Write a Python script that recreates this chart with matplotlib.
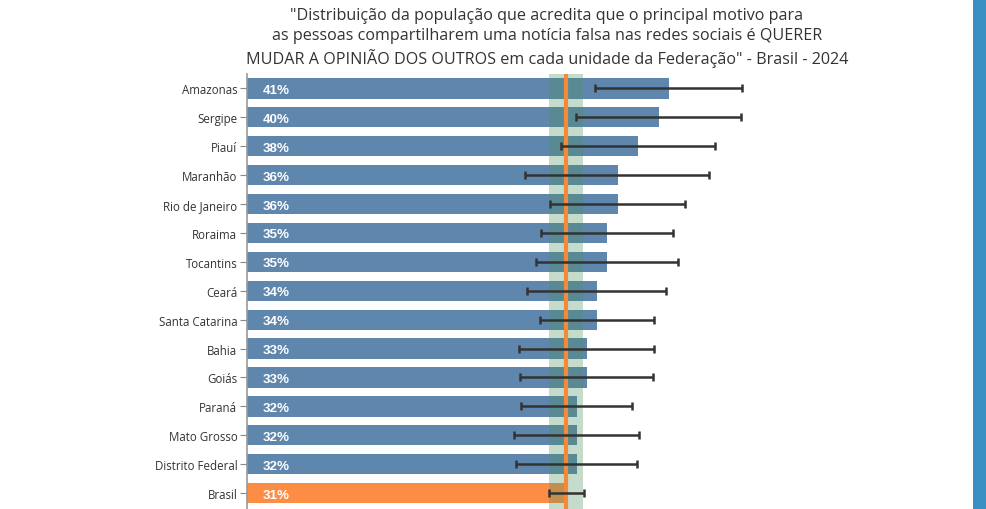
import numpy as np
import matplotlib.pyplot as plt

states = ["Amazonas", "Sergipe", "Piauí", "Maranhão", "Rio de Janeiro", "Roraima",
          "Tocantins", "Ceará", "Santa Catarina", "Bahia", "Goiás", "Paraná",
          "Mato Grosso", "Distrito Federal", "Brasil"]
values = [41, 40, 38, 36, 36, 35, 35, 34, 34, 33, 33, 32, 32, 32, 31]
ci_low = [33.8, 31.9, 30.5, 27.0, 29.4, 28.5, 28.1, 27.2, 28.4, 26.4, 26.5, 26.6, 25.9, 26.1, 29.3]
ci_high = [48.1, 48.0, 45.4, 44.9, 42.5, 41.4, 41.8, 40.7, 39.5, 39.5, 39.4, 37.4, 38.1, 37.9, 32.7]
brasil_value = 31
brasil_ci = (29.3, 32.6)

title = ('"Distribuição da população que acredita que o principal motivo para\n'
         'as pessoas compartilharem uma notícia falsa nas redes sociais é QUERER\n'
         'MUDAR A OPINIÃO DOS OUTROS em cada unidade da Federação" - Brasil - 2024')

W, H = 987, 510
fig = plt.figure(figsize=(W / 100, H / 100), dpi=100)
fig.patch.set_facecolor("white")

# axes: left edge at the y axis line, top just above the first bar
ax_left, ax_top, ax_right = 247, 75, 960
ax = fig.add_axes([ax_left / W, 0, (ax_right - ax_left) / W, (H - ax_top) / H])
px_per_pct = 10.3
ax.set_xlim(0, (ax_right - ax_left) / px_per_pct)
ax.set_ylim(len(states) - 0.45, -0.5)

y = np.arange(len(states))
colors = ["#5f86ad"] * (len(states) - 1) + ["#fd8d45"]
ax.barh(y, values, height=0.7, color=colors, zorder=1)

for yi, v in zip(y, values):
    ax.text(1.5, yi + 0.05, f"{v}%", color="white", fontsize=9.6, fontweight="bold",
            family="Liberation Sans", va="center", ha="left", zorder=5)

# Brasil reference band and line
ax.axvspan(brasil_ci[0], brasil_ci[1], color="#4f9464", alpha=0.33, lw=0, zorder=2)
ax.axvline(brasil_value, color="#f28a3a", lw=3, zorder=3)

centers = [(lo + hi) / 2 for lo, hi in zip(ci_low, ci_high)]
half = [(hi - lo) / 2 for lo, hi in zip(ci_low, ci_high)]
ax.errorbar(centers, y, xerr=half, fmt="none", ecolor="#333333", elinewidth=1.8,
            capsize=3, capthick=1.8, zorder=4)

ax.set_yticks(y)
ax.set_yticklabels(states, family="Open Sans", fontsize=8.3, color="#333333")
ax.tick_params(axis="y", length=5, color="#888888", pad=2)
ax.set_xticks([])
for s in ["top", "right", "bottom"]:
    ax.spines[s].set_visible(False)
ax.spines["left"].set_color("#999999")
ax.spines["left"].set_linewidth(1.2)

fig.text(547 / W, 1 - 38 / H, title, ha="center", va="center", fontsize=11.6,
         family="Open Sans", color="#333333", linespacing=1.3)

# blue stripe on the right edge
fig.add_artist(plt.Rectangle((973 / W, 0), 14 / W, 1, transform=fig.transFigure,
                             color="#3a8fc2", lw=0))

fig.savefig("out.png", dpi=100)
